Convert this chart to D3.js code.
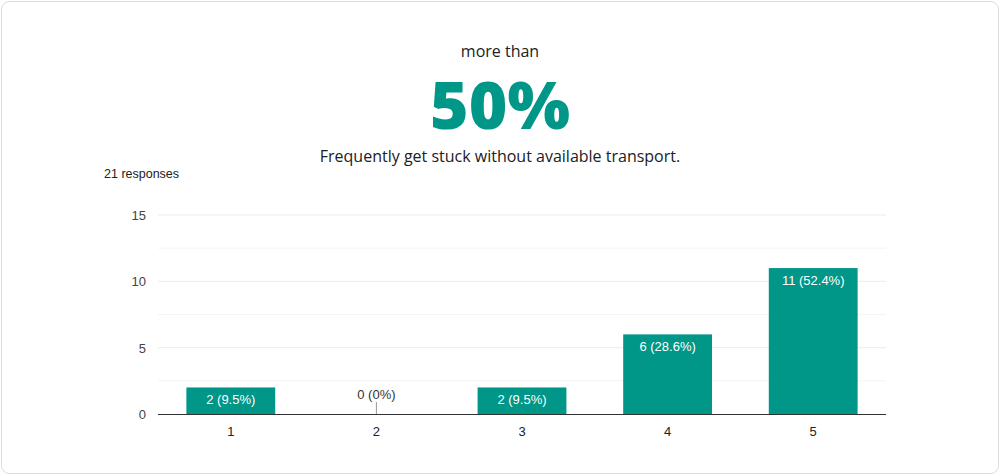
<!DOCTYPE html><html><head><meta charset="utf-8">
<script src="https://cdn.jsdelivr.net/npm/d3@7"></script>
<style>body{margin:0;background:#fff}</style></head><body>
<svg id="c" width="1000" height="475"></svg>
<script>
const categories=["1","2","3","4","5"];
const counts=[2,0,2,6,11];
const labels=["2 (9.5%)","0 (0%)","2 (9.5%)","6 (28.6%)","11 (52.4%)"];
const yTicks=[0,5,10,15];
const gridLines=[2.5,5,7.5,10,12.5,15];
const color="#009688";
const svg=d3.select("#c");
svg.append("rect").attr("x",1.5).attr("y",1.5).attr("width",997).attr("height",472).attr("rx",8).attr("fill","#fff").attr("stroke","#dadce0");
svg.append("text").attr("x",500).attr("y",57).attr("text-anchor","middle").attr("font-family","Open Sans").attr("font-size",16).attr("fill","#202124").text("more than");
svg.append("text").attr("x",500).attr("y",129).attr("text-anchor","middle").attr("font-family","Open Sans").attr("font-weight",800).attr("font-size",66).attr("fill",color).text("50%");
svg.append("text").attr("x",500).attr("y",162).attr("text-anchor","middle").attr("font-family","Open Sans").attr("font-size",16).attr("fill","#202124").text("Frequently get stuck without available transport.");
svg.append("text").attr("x",104).attr("y",178).attr("font-family","Liberation Sans").attr("font-size",12.5).attr("fill","#202124").text("21 responses");
const x=d3.scaleBand().domain(categories).range([158,886]).paddingInner(0.39).paddingOuter(0.195);
const y=d3.scaleLinear().domain([0,15]).range([414,215]);
svg.selectAll(".g").data(gridLines).join("line").attr("x1",158).attr("x2",886).attr("y1",d=>y(d)).attr("y2",d=>y(d)).attr("stroke",(d)=>d%5===0?"#ebebeb":"#f4f4f4");
svg.selectAll(".yt").data(yTicks).join("text").attr("x",146).attr("y",d=>y(d)+5).attr("text-anchor","end").attr("font-family","Liberation Sans").attr("font-size",13).attr("fill","#444").text(d=>d);
svg.selectAll(".b").data(counts).join("rect").attr("x",(d,i)=>x(categories[i])).attr("width",x.bandwidth()).attr("y",d=>y(d)).attr("height",d=>414-y(d)).attr("fill",color);
svg.selectAll(".l").data(counts).join("text").attr("x",(d,i)=>x(categories[i])+x.bandwidth()/2).attr("y",d=>d===0?y(0)-15:y(d)+17).attr("text-anchor","middle").attr("font-family","Liberation Sans").attr("font-size",13).attr("fill",d=>d===0?"#333":"#fff").text((d,i)=>labels[i]);
counts.forEach((d,i)=>{if(d===0)svg.append("line").attr("x1",x(categories[i])+x.bandwidth()/2).attr("x2",x(categories[i])+x.bandwidth()/2).attr("y1",y(0)-12).attr("y2",y(0)).attr("stroke","#999");});
svg.append("line").attr("x1",158).attr("x2",886).attr("y1",414.5).attr("y2",414.5).attr("stroke","#333");
svg.selectAll(".xt").data(categories).join("text").attr("x",d=>x(d)+x.bandwidth()/2).attr("y",436).attr("text-anchor","middle").attr("font-family","Liberation Sans").attr("font-size",13).attr("fill","#222").text(d=>d);
</script></body></html>
